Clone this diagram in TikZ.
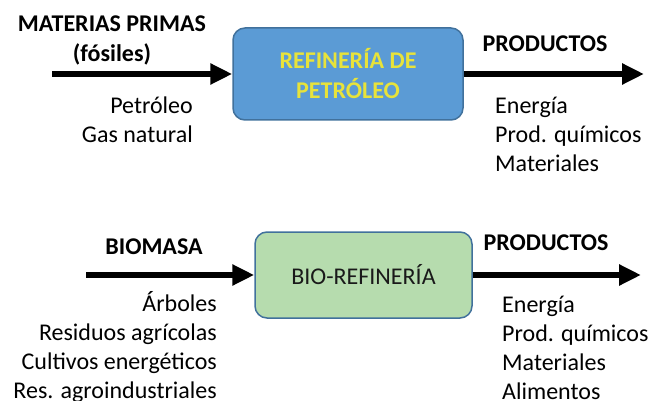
\documentclass[tikz,border=0pt]{standalone}
\usepackage{fontspec}
\setmainfont{Carlito}
\usetikzlibrary{arrows.meta}
\definecolor{boxblue}{HTML}{5B9BD5}
\definecolor{boxborder}{HTML}{41719C}
\definecolor{boxgreen}{HTML}{B6DCAE}
\definecolor{txtyellow}{HTML}{E8E33A}
\definecolor{txtdark}{HTML}{1A1A1A}
\tikzset{
  flowarrow/.style={line width=6.5pt, -{Triangle[length=22pt,width=20pt]}},
  procbox/.style={draw=boxborder, line width=1.5pt, rounded corners=12pt, inner sep=0pt, align=center},
  headlbl/.style={font=\fontsize{24}{29}\selectfont\bfseries, inner sep=0pt, align=center},
  listlbl/.style={font=\fontsize{24}{29}\selectfont, inner sep=0pt},
}
\begin{document}
\begin{tikzpicture}[x=1pt,y=-1pt]
\useasboundingbox (0,0) rectangle (658,401);
% top row
\node[procbox, fill=boxblue, minimum width=230pt, minimum height=92pt,
      font=\fontsize{24}{30}\selectfont\bfseries, text=txtyellow] (ref) at (348,74) {REFINERÍA DE\\PETRÓLEO};
\coordinate (inA) at (52,74);
\coordinate (outA) at (644,74);
\draw[flowarrow] (inA) -- (ref.west);
\draw[flowarrow] (ref.east) -- (outA);
\node[headlbl] (mp) at (112,24) {MATERIAS PRIMAS};
\node[headlbl] (fos) at (112,54) {(fósiles)};
\node[listlbl, align=right, anchor=east] (fossil) at (193,120) {Petróleo\\Gas natural};
\node[headlbl] (prodA) at (545,44) {PRODUCTOS};
\node[listlbl, align=left, anchor=west] (prodlistA) at (495,134) {Energía\\Prod. químicos\\Materiales};
% bottom row
\node[procbox, fill=boxgreen, minimum width=217pt, minimum height=86pt,
      font=\fontsize{24}{29}\selectfont, text=txtdark] (bio) at (363.5,275) {BIO-REFINERÍA};
\coordinate (inB) at (86,275);
\coordinate (outB) at (641,275);
\draw[flowarrow] (inB) -- (bio.west);
\draw[flowarrow] (bio.east) -- (outB);
\node[headlbl] (biom) at (154,247) {BIOMASA};
\node[listlbl, align=right, anchor=east] (biolist) at (217,347) {Árboles\\Residuos agrícolas\\Cultivos energéticos\\Res. agroindustriales};
\node[headlbl] (prodB) at (546,243) {PRODUCTOS};
\node[listlbl, align=left, anchor=west] (prodlistB) at (502,348) {Energía\\Prod. químicos\\Materiales\\Alimentos};
\end{tikzpicture}
\end{document}
